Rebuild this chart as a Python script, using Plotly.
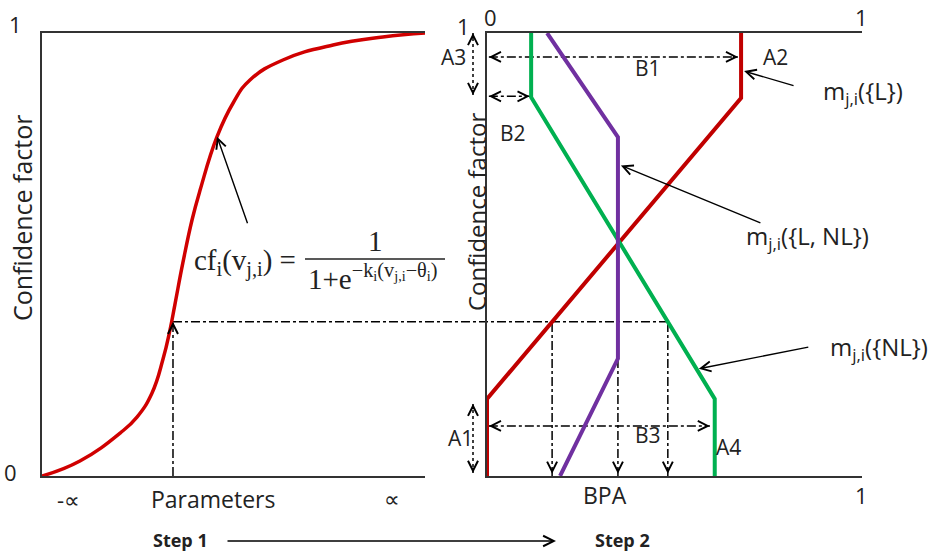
import numpy as np
import plotly.graph_objects as go

W, H = 937, 552

# Step 1: confidence factor curve
param = [0, 0.099, 0.204, 0.248, 0.287, 0.316, 0.334, 0.347, 0.368, 0.392,
         0.413, 0.457, 0.499, 0.543, 0.629, 0.760, 0.890, 1.0]
cf = [0, 0.034, 0.097, 0.133, 0.187, 0.264, 0.329, 0.387, 0.482, 0.579,
      0.646, 0.766, 0.842, 0.894, 0.939, 0.973, 0.991, 1.0]

# Step 2: BPA against confidence factor
bpa_L = [0, 0, 0.685, 0.685]
cf_L = [0, 0.174, 0.853, 1]
bpa_NL = [0.614, 0.614, 0.119, 0.119]
cf_NL = [0, 0.174, 0.855, 1]
bpa_LNL = [0.197, 0.353, 0.353, 0.162]
cf_LNL = [0, 0.265, 0.765, 1]

# the worked example
param_sel = 0.342
cf_sel = 0.348
A1 = [0.007, 0.163]
A3 = [0.86, 1.0]
B1 = [0.946, 0.677]   # level, reach
B2 = [0.857, 0.115]
B3 = [0.113, 0.601]

RED = "#d00000"
RED2 = "#c00000"
GREEN = "#00b050"
PURPLE = "#7030a0"
FONT = "Open Sans"
SERIF = "Liberation Serif"

# pixel -> paper helpers (margins are zero)
def px(x):
    return x / W

def py(y):
    return 1 - y / H

dom1 = [px(42), px(425)]
dom2 = [px(487), px(862)]
ydom = [py(476), py(33)]
x2max = 1.011

def x2paper(v):
    return dom2[0] + v / x2max * (dom2[1] - dom2[0])

def x1paper(v):
    return dom1[0] + v * (dom1[1] - dom1[0])

fig = go.Figure()
fig.add_trace(go.Scatter(x=param, y=cf, mode="lines", line=dict(color=RED, width=3.5, shape="spline", smoothing=1.3),
                         xaxis="x", yaxis="y", hoverinfo="skip"))
fig.add_trace(go.Scatter(x=bpa_L, y=cf_L, mode="lines", line=dict(color=RED2, width=4),
                         xaxis="x2", yaxis="y2", name="m({L})"))
fig.add_trace(go.Scatter(x=bpa_NL, y=cf_NL, mode="lines", line=dict(color=GREEN, width=4),
                         xaxis="x2", yaxis="y2", name="m({NL})"))
fig.add_trace(go.Scatter(x=bpa_LNL, y=cf_LNL, mode="lines", line=dict(color=PURPLE, width=4),
                         xaxis="x2", yaxis="y2", name="m({L,NL})"))

# projections of the selected confidence onto each BPA line
proj = [float(np.interp(cf_sel, c, b)) for b, c in
        [(bpa_L, cf_L), (bpa_LNL, cf_LNL), (bpa_NL, cf_NL)]]

shapes = []
anns = []
dd = dict(color="black", width=1.5, dash="dashdot")

def head(x, y, xref, yref, dx, dy):
    # small solid arrow whose shaft hides under the head
    anns.append(dict(x=x, y=y, xref=xref, yref=yref, ax=dx, ay=dy, text="", showarrow=True,
                     font=dict(size=1), arrowhead=5, arrowsize=1.4, arrowwidth=1.4, arrowcolor="black"))

# step 1 vertical + horizontal guide
shapes.append(dict(type="line", xref="x", yref="y", x0=param_sel, x1=param_sel, y0=0, y1=cf_sel, line=dd, layer="below"))
head(param_sel, cf_sel, "x", "y", 0, 6)
shapes.append(dict(type="line", xref="paper", yref="y", x0=x1paper(param_sel), x1=x2paper(proj[2]),
                   y0=cf_sel, y1=cf_sel, line=dd, layer="below"))
for p in proj:
    shapes.append(dict(type="line", xref="x2", yref="y2", x0=p, x1=p, y0=0, y1=cf_sel, line=dd, layer="below"))
    head(p, 0.005, "x2", "y2", 0, -6)

# double arrows inside the BPA panel
for lev, reach in [B1, B2, B3]:
    shapes.append(dict(type="line", xref="x2", yref="y2", x0=0.005, x1=reach, y0=lev, y1=lev, line=dd, layer="below"))
    head(0.005, lev, "x2", "y2", 6, 0)
    head(reach, lev, "x2", "y2", -6, 0)

# vertical double arrows to the left of the BPA panel
for lo, hi in [A1, A3]:
    shapes.append(dict(type="line", xref="paper", yref="y2", x0=px(473), x1=px(473), y0=lo, y1=hi,
                       line=dict(color="black", width=1.5, dash="dot")))
    head(px(473), hi, "paper", "y2", 0, 6)
    head(px(473), lo, "paper", "y2", 0, -6)

# pointer arrows
for x, y, xr, yr, ax, ay in [(0.457, 0.766, "x", "y", 31, 88),
                             (0.693, 0.914, "x2", "y2", 51, 15),
                             (0.361, 0.701, "x2", "y2", 141, 58),
                             (0.571, 0.242, "x2", "y2", 111, -22)]:
    anns.append(dict(x=x, y=y, xref=xr, yref=yr, ax=ax, ay=ay, text="", showarrow=True, font=dict(size=1),
                     arrowhead=5, arrowsize=1.4, arrowwidth=1.4, arrowcolor="black"))

# step arrow
anns.append(dict(x=px(556), y=py(541), xref="paper", yref="paper", ax=-330, ay=0, text="", showarrow=True,
                 font=dict(size=1), arrowhead=5, arrowsize=1.6, arrowwidth=1.3, arrowcolor="black"))

def label(text, x, y, size=22, family=FONT, rot=0, bold=False):
    if bold:
        text = "<b>" + text + "</b>"
    anns.append(dict(x=px(x), y=py(y), xref="paper", yref="paper", text=text, showarrow=False,
                     textangle=rot, xanchor="center", yanchor="middle",
                     font=dict(family=family, size=size, color="#222")))

label("1", 15, 24)
label("0", 10, 472)
label("Confidence factor", 22, 218, size=25, rot=-90)
label("-∝", 68, 499)
label("Parameters", 213, 499, size=23)
label("∝", 392, 498)
label("0", 490, 17)
label("1", 861, 17)
label("1", 463, 26)
label("Confidence factor", 477, 212, size=24, rot=-90)
label("BPA", 605, 495, size=23)
label("1", 861, 495)
label("A3", 453, 57, size=21)
label("B1", 648, 68, size=21)
label("B2", 513, 133, size=21)
label("A2", 775, 57, size=21)
label("A1", 460, 438, size=21)
label("B3", 648, 435, size=21)
label("A4", 728, 447, size=21)
label("m<sub>j,i</sub>({L})", 863, 92, size=24)
label("m<sub>j,i</sub>({L, NL})", 807, 237, size=24)
label("m<sub>j,i</sub>({NL})", 879, 348, size=24)
label("Step 1", 180, 540, size=18, bold=True)
label("Step 2", 622, 540, size=18, bold=True)

# formula
label("cf<sub>i</sub>(v<sub>j,i</sub>) =", 245, 262, size=29, family=SERIF)
label("1", 375, 241, size=29, family=SERIF)
label("1+e<sup>−k<sub>i</sub>(v<sub>j,i</sub>−θ<sub>i</sub>)</sup>", 373, 277, size=29, family=SERIF)
shapes.append(dict(type="line", xref="paper", yref="paper", x0=px(305), x1=px(445), y0=py(259), y1=py(259),
                   line=dict(color="#222", width=1.3)))

axline = dict(showline=True, linecolor="#333", linewidth=2, showgrid=False, zeroline=False,
              showticklabels=False, ticks="")
fig.update_layout(
    width=W, height=H, margin=dict(l=0, r=0, t=0, b=0),
    paper_bgcolor="white", plot_bgcolor="white", showlegend=False,
    xaxis=dict(domain=dom1, range=[0, 1], mirror=True, anchor="y", **axline),
    yaxis=dict(domain=ydom, range=[0, 1], anchor="x", **axline),
    xaxis2=dict(domain=dom2, range=[0, x2max], mirror=True, anchor="y2", **axline),
    yaxis2=dict(domain=ydom, range=[0, 1], anchor="x2", **axline),
    shapes=shapes, annotations=anns,
)
fig.write_html("out.html", config={"displayModeBar": False},
               post_script="document.body.style.margin='0';")
